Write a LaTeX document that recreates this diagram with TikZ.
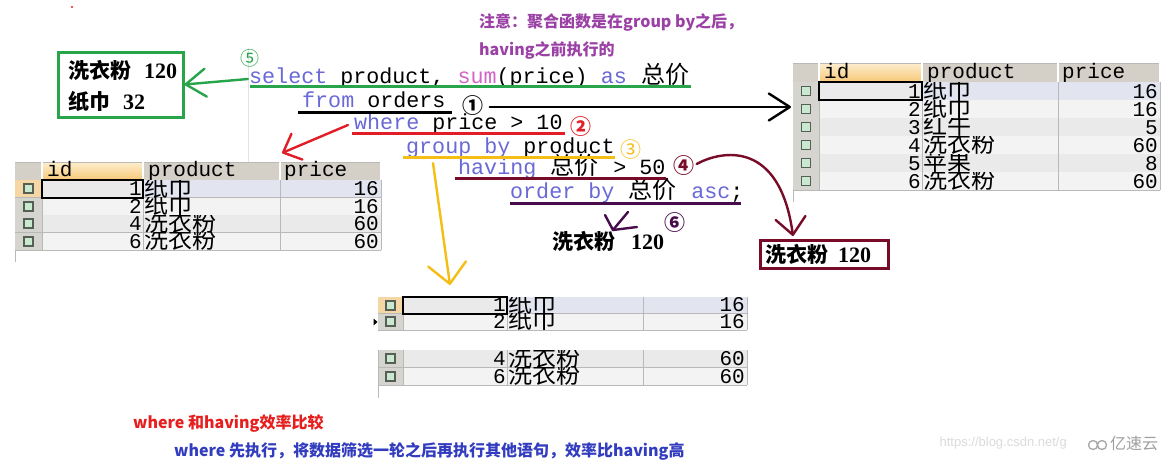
\documentclass[tikz,border=0pt]{standalone}
\usepackage{fontspec}
\setmainfont{Liberation Serif}
\newfontfamily\monof{Liberation Mono}
\newfontfamily\cjkf{Noto Sans CJK SC}
\newfontfamily\dvf{DejaVu Sans}
\newfontfamily\lsf{Liberation Sans}
\usetikzlibrary{arrows.meta,calc}

\definecolor{kw}{RGB}{105,105,215}
\definecolor{fn}{RGB}{210,100,200}
\definecolor{cgreen}{RGB}{40,165,75}
\definecolor{cred}{RGB}{225,30,40}
\definecolor{cyel}{RGB}{245,190,20}
\definecolor{cmar}{RGB}{120,12,40}
\definecolor{cpur}{RGB}{70,12,75}
\definecolor{notec}{RGB}{155,65,165}
\definecolor{bred}{RGB}{230,30,30}
\definecolor{bblue}{RGB}{50,60,190}
\definecolor{hdr}{RGB}{212,208,200}
\definecolor{rowhd}{RGB}{214,212,206}
\definecolor{rowsel}{RGB}{245,215,165}
\definecolor{icf}{RGB}{200,232,208}
\definecolor{icd}{RGB}{85,95,85}
\definecolor{cellA}{RGB}{243,243,243}
\definecolor{cellB}{RGB}{234,234,234}
\definecolor{cellS}{RGB}{226,229,240}
\definecolor{gridc}{RGB}{185,185,185}
\definecolor{hdrA}{RGB}{253,238,205}
\definecolor{hdrB}{RGB}{247,200,120}

\newcommand\kwd[1]{\textcolor{kw}{#1}}
\newcommand\fnc[1]{\textcolor{fn}{#1}}
\newcommand\zh[1]{\makebox[51pt][c]{\cjkf\fontsize{24}{24}\selectfont #1}}
\newcommand\resline[3]{{\cjkf\bfseries\fontsize{21}{21}\selectfont #1}\hspace{#3}{\bfseries\fontsize{22}{22}\selectfont #2}}

\newcommand\settab[5]{\def\Xa{#1}\def\Xb{#2}\def\Xc{#3}\def\Xd{#4}\def\Xe{#5}}
\newcommand\tabhead[3]{%
  \fill[hdr] (\Xa,#1) rectangle (\Xe,#2);
  \shade[top color=hdrA, bottom color=hdrB] (\Xb,#1) rectangle (\Xc,#2);
  \draw[gridc] (\Xa,#1) -- (\Xe,#1) (\Xa,#2) -- (\Xe,#2);
  \draw[white, line width=1.2pt] (\Xb,#1) -- (\Xb,#2) (\Xc,#1) -- (\Xc,#2) (\Xd,#1) -- (\Xd,#2) (\Xe,#1) -- (\Xe,#2);
  \node[hdtxt] (#3id) at (\Xb+5,#2-4) {id};
  \node[hdtxt] (#3pr) at (\Xc+5,#2-4) {product};
  \node[hdtxt] (#3pc) at (\Xd+4,#2-4) {price};
}
\newcommand\tabrow[9]{%
  \fill[#6] (\Xc,#1) rectangle (\Xe,#2);
  \fill[#7] (\Xb,#1) rectangle (\Xc,#2);
  \fill[#8] (\Xa,#1) rectangle (\Xb,#2);
  \draw[gridc] (\Xa,#2) -- (\Xe,#2) (\Xb,#1) -- (\Xb,#2) (\Xc,#1) -- (\Xc,#2) (\Xd,#1) -- (\Xd,#2) (\Xe,#1) -- (\Xe,#2);
  \pgfmathsetmacro\cx{(\Xa+\Xb)/2}\pgfmathsetmacro\cy{(#1+#2)/2}
  \draw[icd, fill=icf, line width=1.6pt] (\cx-4.5,\cy-4.5) rectangle (\cx+4.5,\cy+4.5);
  \node[numtxt, anchor=base east] (#9i) at (\Xc-1,#2-2) {#3};
  \begin{scope}
    \clip (\Xc,#1) rectangle (\Xd,#2+1);
    \node[zhtxt, anchor=base west] (#9p) at (\Xc+1,#2-1.5) {#4};
  \end{scope}
  \node[numtxt, anchor=base east] (#9c) at (\Xe-2,#2-2) {#5};
}

\begin{document}
\begin{tikzpicture}[x=1pt,y=-1pt,
  code/.style={font=\monof\fontsize{21.7}{21.7}\selectfont, inner sep=0, anchor=base west},
  hdtxt/.style={font=\monof\fontsize{21}{21}\selectfont, inner sep=0, anchor=base west},
  numtxt/.style={font=\monof\fontsize{21}{21}\selectfont, inner sep=0},
  zhtxt/.style={font=\cjkf\fontsize{24}{24}\selectfont, inner sep=0},
  cn/.style={font=\cjkf\bfseries\fontsize{21}{21}\selectfont, inner sep=0},
  notef/.style={font=\cjkf\bfseries\fontsize{16}{16}\selectfont, inner sep=0, anchor=west},
  restxt/.style={inner sep=0, anchor=base west},
  ul/.style={line width=3pt},
  hand/.style={line width=2.4pt, line cap=round, line join=round}]
\useasboundingbox (0,0) rectangle (1169,463);
\fill[white] (0,0) rectangle (1169,463);

% faint marks
\draw[gray!22, line width=0.8pt] (248,48) -- (248,250);
\fill[bred] (72,7) circle (1.2);

% notes
\node[notef, text=notec] (n1) at (479,22) {注意：聚合函数是在group by之后，};
\node[notef, text=notec] (n2) at (479,50) {having之前执行的};

% code lines
\node[code] (sel) at (249,83) {\kwd{select} product, \fnc{sum}(price) \kwd{as} \zh{总价}};
\node[code] (frm) at (302,107) {\kwd{from} orders};
\node[code] (whr) at (354,129) {\kwd{where} price > 10};
\node[code] (grp) at (406,153) {\kwd{group by} product};
\node[code] (hav) at (458,174) {\kwd{having} \zh{总价} > 50};
\node[code] (ord) at (510,198) {\kwd{order by} \zh{总价} \kwd{asc};};

% underlines
\draw[ul, cgreen] ($(sel.base west)+(1,3)$) -- ($(sel.base east)+(0,3)$);
\draw[ul, black] ($(frm.base west)+(-4,5)$) -- ($(frm.base east)+(6,5)$);
\draw[ul, cred] ($(whr.base west)+(-2,4)$) -- ($(whr.base east)+(2,4)$);
\draw[ul, cyel] ($(grp.base west)+(-3,4)$) -- ($(grp.base east)+(0,4)$);
\draw[ul, cmar] ($(hav.base west)+(-3,4)$) -- ($(hav.base east)+(0,4)$);
\draw[ul, cpur] ($(ord.base west)+(0,5)$) -- ($(ord.base east)+(-3,5)$);

% circled numbers
\node[cn, text=cgreen, font=\cjkf\fontsize{19}{19}\selectfont] (c5) at (250,58) {⑤};
\node[cn, text=black] (c1) at (473,106) {①};
\node[cn, text=cred] (c2) at (581,127) {②};
\node[cn, text=cyel, font=\cjkf\fontsize{21}{21}\selectfont] (c3) at (631,150) {③};
\node[cn, text=cmar] (c4) at (684,166) {④};
\node[cn, text=cpur] (c6) at (675,223) {⑥};

% result boxes
\node[draw=cgreen, line width=3pt, minimum width=125, minimum height=65, inner sep=0] (gbox) at (120.5,84.5) {};
\node[restxt] (g1) at (68,78) {\resline{洗衣粉}{120}{13pt}};
\node[restxt] (g2) at (68,109) {\resline{纸巾}{32}{13pt}};

\node[draw=cmar, line width=3pt, minimum width=128, minimum height=28, inner sep=0] (mbox) at (824,254) {};
\node[restxt] (m1) at (765,262) {\resline{洗衣粉}{120}{10pt}};

\node[restxt] (r6) at (552,249) {\resline{洗衣粉}{120}{16pt}};

% right table
\node[inner sep=0, minimum width=367, minimum height=127, anchor=north west] (tR) at (793,63) {};
\settab{793}{819}{922}{1058}{1160}
\draw[gridc] (793,63) -- (793,202);
\tabhead{63}{82}{RH}
\tabrow{82}{100}{1}{纸巾}{16}{cellS}{cellB}{rowhd}{Ra}
\tabrow{100}{118}{2}{纸巾}{16}{cellA}{cellA}{rowhd}{Rb}
\tabrow{118}{136}{3}{红牛}{5}{cellB}{cellB}{rowhd}{Rc}
\tabrow{136}{154}{4}{洗衣粉}{60}{cellA}{cellA}{rowhd}{Rd}
\tabrow{154}{172}{5}{苹果}{8}{cellB}{cellB}{rowhd}{Re}
\tabrow{172}{190}{6}{洗衣粉}{60}{cellA}{cellA}{rowhd}{Rf}
\draw[black, line width=2pt] (819,82) rectangle (922,100);

% left table
\node[inner sep=0, minimum width=366, minimum height=88, anchor=north west] (tL) at (15,162) {};
\settab{15}{42}{143}{280}{381}
\draw[gridc] (15,162) -- (15,262);
\tabhead{162}{180}{LH}
\tabrow{180}{197.5}{1}{纸巾}{16}{cellS}{cellB}{rowsel}{La}
\tabrow{197.5}{215}{2}{纸巾}{16}{cellA}{cellA}{rowhd}{Lb}
\tabrow{215}{232.5}{4}{洗衣粉}{60}{cellB}{cellB}{rowhd}{Lc}
\tabrow{232.5}{250}{6}{洗衣粉}{60}{cellA}{cellA}{rowhd}{Ld}
\draw[black, line width=2pt] (42,180) rectangle (143,197.5);

% middle table
\node[inner sep=0, minimum width=369, minimum height=88, anchor=north west] (tM) at (378,297) {};
\settab{378}{403}{507}{643}{747}
\tabrow{297}{313.5}{1}{纸巾}{16}{cellS}{cellB}{rowsel}{Ma}
\tabrow{313.5}{330}{2}{纸巾}{16}{cellA}{cellA}{rowhd}{Mb}
\tabrow{350}{367.5}{4}{洗衣粉}{60}{cellB}{cellB}{rowhd}{Mc}
\tabrow{367.5}{385}{6}{洗衣粉}{60}{cellA}{cellA}{rowhd}{Md}
\draw[black, line width=2pt] (403,297) rectangle (507,313.5);
\draw[gridc] (378,350) -- (378,398);
\fill[black] (373.5,318.5) -- (377.5,322) -- (373.5,325.5) -- cycle;

% arrow end points
\coordinate (redtip) at (282,153);
\coordinate (yeltail) at (433,163);
\coordinate (yeltip) at (450,285);
\coordinate (martip) at (793,236);
\coordinate (p6tip) at (613,230);
\coordinate (p6s) at (637,227);
\coordinate (p6a) at (605,215);
\coordinate (p6b) at (628,212);

% arrows
\draw[hand, cgreen, -{Straight Barb[length=20pt,width=28pt,round]}] ($(sel.base west)+(-1,-4)$) -- (gbox.east);
\draw[hand, black, -{Straight Barb[length=21pt,width=27pt,round]}] ($(c1.east)+(6,1)$) -- ($(c1 -| tR.west)+(-2,1)$);
\draw[hand, cred, -{Straight Barb[length=15pt,width=28pt,round]}] ($(whr.base west)+(-6,-4)$) -- (redtip);
\draw[hand, cyel, -{Straight Barb[length=20pt,width=38pt,round]}] (yeltail) -- (yeltip);
\draw[hand, cmar, -{Straight Barb[length=17pt,width=30pt,round]}] ($(c4.east)+(2,-2)$) .. controls (722,150) and (780,140) .. (martip);
\draw[hand, cpur] (p6a) -- (p6tip) -- (p6b);
\draw[hand, cpur] (p6tip) -- (p6s);

% watermark
\node[inner sep=0, anchor=east, text=gray!28, font=\lsf\fontsize{13}{13}\selectfont] (wm) at (1067,443) {https://blog.csdn.net/g};
\draw[gray!70, line width=1.3pt] (1093,445) circle (4.5) (1102,445) circle (4.5);
\node[inner sep=0, anchor=west, text=gray!75, font=\cjkf\fontsize{16}{16}\selectfont] (wm2) at (1110,443) {亿速云};

% bottom notes
\node[notef, text=bred] (b1) at (133,423) {where 和having效率比较};
\node[notef, text=bblue] (b2) at (174,451) {where 先执行，将数据筛选一轮之后再执行其他语句，效率比having高};
\end{tikzpicture}
\end{document}
